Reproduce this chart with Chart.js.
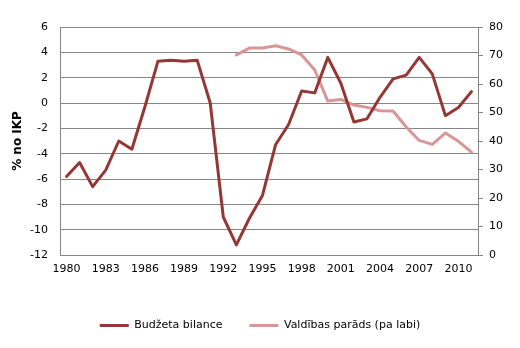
<!DOCTYPE html>
<html>
<head>
<meta charset="utf-8">
<title>Budžeta bilance un valdības parāds</title>
<script src="https://cdn.jsdelivr.net/npm/chart.js@4/dist/chart.umd.min.js"></script>
<style>
  html, body { margin: 0; padding: 0; background: #fff; }
  #wrap { width: 520px; height: 348px; }
</style>
</head>
<body>
<div id="wrap"><canvas id="chart" width="520" height="348"></canvas></div>
<script>
// Years on the category axis
const years = [];
for (let y = 1980; y <= 2011; y++) years.push(String(y));

// Budget balance, % of GDP (left axis)
const budgetBalance = [
  -5.8, -4.7, -6.6, -5.3, -3.0, -3.65, -0.3, 3.3, 3.38, 3.3,
  3.38, 0.0, -9.0, -11.2, -9.1, -7.3, -3.3, -1.7, 0.95, 0.8,
  3.6, 1.56, -1.5, -1.25, 0.45, 1.9, 2.2, 3.6, 2.3, -1.0,
  -0.35, 0.9
];

// Government debt, % of GDP (right axis), series starts in 1993
const governmentDebt = [
  null, null, null, null, null, null, null, null, null, null,
  null, null, null, 70.2, 72.6, 72.6, 73.4, 72.3, 70.2, 64.9,
  54.0, 54.6, 52.6, 51.8, 50.6, 50.5, 44.9, 40.2, 38.8, 42.8,
  39.9, 36.1
];

const seriesNames = ['Budžeta bilance', 'Valdības parāds (pa labi)'];
const leftTicks = { min: -12, max: 6, step: 2 };
const rightTicks = { min: 0, max: 80, step: 10 };

const gridColor = '#868686';
const darkRed = '#953735';
const lightRed = '#D99694';

Chart.defaults.font.family = '"DejaVu Sans", Verdana, sans-serif';
Chart.defaults.font.size = 11;
Chart.defaults.color = '#000';

const ctx = document.getElementById('chart').getContext('2d');

new Chart(ctx, {
  type: 'line',
  data: {
    labels: years,
    datasets: [
      {
        label: seriesNames[0],
        data: budgetBalance,
        yAxisID: 'y',
        borderColor: darkRed,
        backgroundColor: darkRed,
        borderWidth: 3,
        pointRadius: 0,
        tension: 0,
        borderJoinStyle: 'round',
        borderCapStyle: 'round',
      },
      {
        label: seriesNames[1],
        data: governmentDebt,
        yAxisID: 'y1',
        borderColor: lightRed,
        backgroundColor: lightRed,
        borderWidth: 3,
        pointRadius: 0,
        tension: 0,
        borderJoinStyle: 'round',
        borderCapStyle: 'round',
      },
    ],
  },
  options: {
    responsive: false,
    animation: false,
    layout: { padding: { top: 27, left: 0, right: 0, bottom: 7 } },
    plugins: {
      tooltip: { enabled: false },
      legend: {
        position: 'bottom',
        labels: {
          boxWidth: 29,
          boxHeight: 3,
          padding: 27,
          generateLabels: (chart) =>
            chart.data.datasets.map((ds, i) => ({
              text: ds.label,
              fillStyle: ds.borderColor,
              strokeStyle: ds.borderColor,
              lineWidth: 0,
              hidden: false,
              datasetIndex: i,
            })),
        },
      },
    },
    scales: {
      x: {
        offset: true,
        grid: { display: false, drawTicks: false },
        border: { display: true, color: gridColor },
        ticks: {
          autoSkip: false,
          maxRotation: 0,
          padding: 8,
          callback: function (value, index) {
            return index % 3 === 0 ? years[index] : '';
          },
        },
        afterFit: (scale) => { scale.height = 38; },
      },
      y: {
        position: 'left',
        min: leftTicks.min,
        max: leftTicks.max,
        ticks: { stepSize: leftTicks.step, padding: 12 },
        grid: { color: gridColor, drawTicks: false },
        border: { display: true, color: gridColor },
        title: {
          display: true,
          text: '% no IKP',
          font: { size: 12, weight: 'bold' },
          padding: { top: 11, bottom: 0 },
        },
        afterFit: (scale) => { scale.width = 60; },
      },
      y1: {
        position: 'right',
        min: rightTicks.min,
        max: rightTicks.max,
        ticks: { stepSize: rightTicks.step, padding: 6 },
        grid: { drawOnChartArea: false, drawTicks: true, tickLength: 5, color: gridColor },
        border: { display: true, color: gridColor },
        afterFit: (scale) => { scale.width = 42; },
      },
    },
  },
});
</script>
</body>
</html>
